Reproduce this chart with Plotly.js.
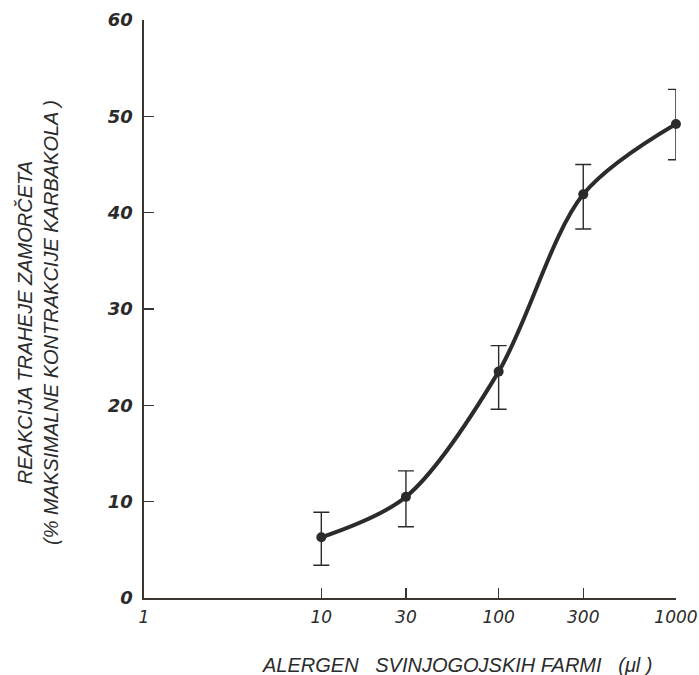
<!DOCTYPE html>
<html><head><meta charset="utf-8">
<script src="https://cdn.plot.ly/plotly-3.0.1.min.js"></script>
<style>body{margin:0;background:#fff}</style>
</head><body>
<div id="chart" style="width:699px;height:675px"></div>
<script>
const doses = [10, 30, 100, 300, 1000];
const response = [6.3, 10.5, 23.5, 41.9, 49.2];
const errPlus = [2.6, 2.7, 2.7, 3.1, 3.6];
const errMinus = [2.9, 3.1, 3.9, 3.6, 3.7];
const xTickVals = [1, 10, 30, 100, 300, 1000];
const xTickText = ['1', '10', '30', '100', '300', '1000'];
const yTickVals = [0, 10, 20, 30, 40, 50, 60];

const ink = '#2b2b2b';
const axisInk = '#3a3530';
const tickFontX = {family: 'DejaVu Sans, sans-serif', size: 17, color: ink, style: 'italic'};
const tickFontY = {family: 'DejaVu Sans, sans-serif', size: 18, color: ink, style: 'italic', weight: 'bold'};
const titleFont = {family: 'Liberation Sans, Arial, sans-serif', size: 20, color: ink, style: 'italic'};
const sp = '\u00A0';

const traces = [
  {x: doses, y: response, mode: 'lines', line: {shape: 'spline', smoothing: 0.9, color: ink, width: 4},
   hoverinfo: 'skip', showlegend: false, cliponaxis: false},
  {x: doses, y: response, mode: 'markers', marker: {size: 10, color: ink}, cliponaxis: false,
   error_y: {type: 'data', symmetric: false, array: errPlus, arrayminus: errMinus, color: ink, thickness: 1.4, width: 8},
   showlegend: false}
];

const L = 144, R = 676, T = 20, B = 598;
const layout = {
  width: 699, height: 675,
  margin: {l: L, r: 699 - R, t: T, b: 675 - B},
  paper_bgcolor: '#fff', plot_bgcolor: '#fff',
  xaxis: {type: 'log', range: [0, 3.0002], tickvals: xTickVals, ticktext: xTickText,
    ticks: 'inside', ticklen: 10, tickcolor: axisInk, tickwidth: 1.4,
    showline: true, linecolor: axisInk, linewidth: 1.6, showgrid: false, zeroline: false,
    tickfont: tickFontX, ticklabelstandoff: 3, ticklabeloverflow: 'allow'},
  yaxis: {range: [0, 60], tickvals: yTickVals, ticks: 'inside', ticklen: 10, tickcolor: axisInk, tickwidth: 1.4,
    showline: true, linecolor: axisInk, linewidth: 1.6, showgrid: false, zeroline: false,
    tickfont: tickFontY, ticklabelstandoff: 6, ticklabeloverflow: 'allow'},
  annotations: [
    {xref: 'paper', yref: 'paper', x: (457 - L) / (R - L), y: (B - 665) / (B - T),
     text: 'ALERGEN' + sp + sp + sp + 'SVINJOGOJSKIH' + sp + 'FARMI' + sp + sp + sp + '(μl' + sp + ')',
     showarrow: false, xanchor: 'center', yanchor: 'middle', font: titleFont},
    {xref: 'paper', yref: 'paper', x: (38 - L) / (R - L), y: (B - 323) / (B - T),
     text: 'REAKCIJA TRAHEJE ZAMORČETA<br>(% MAKSIMALNE KONTRAKCIJE KARBAKOLA )',
     showarrow: false, xanchor: 'center', yanchor: 'middle', textangle: -90, font: titleFont}
  ]
};
Plotly.newPlot('chart', traces, layout, {displayModeBar: false, staticPlot: true});
</script>
</body></html>
